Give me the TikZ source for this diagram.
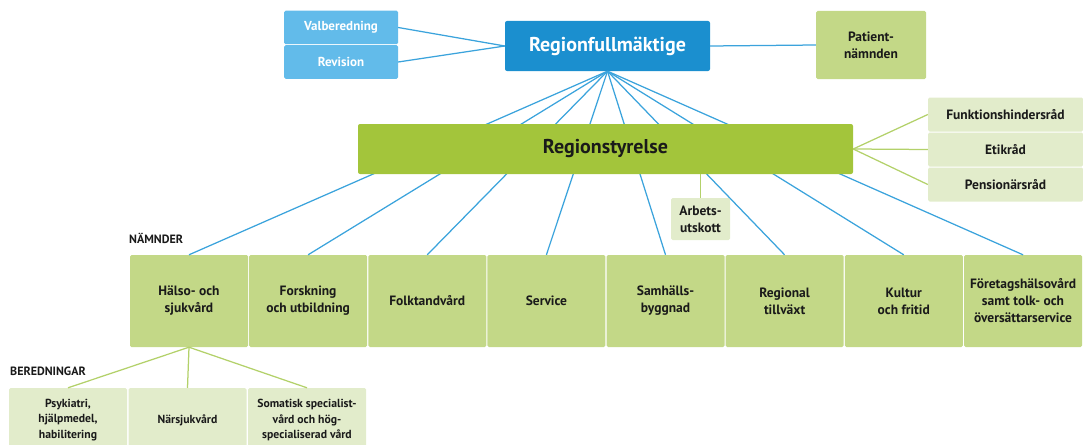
\documentclass[tikz,border=0pt]{standalone}
\usepackage{fontspec}
\setmainfont{PT Sans}
\usetikzlibrary{positioning}

\definecolor{rfblue}{RGB}{27,143,207}
\definecolor{lightblue}{RGB}{98,187,234}
\definecolor{lineblue}{RGB}{59,163,220}
\definecolor{rsgreen}{RGB}{163,197,59}
\definecolor{boxgreen}{RGB}{195,216,135}
\definecolor{palegreen}{RGB}{226,236,203}
\definecolor{linegreen}{RGB}{179,209,106}
\definecolor{txt}{RGB}{26,26,26}

\tikzset{
  nbox/.style={fill=boxgreen, text=txt, font=\bfseries\fontsize{13.5}{17}\selectfont,
    align=center, inner sep=0pt, rounded corners=1.5pt},
  pbox/.style={nbox, fill=palegreen},
  bbox/.style={fill=lightblue, text=white, font=\bfseries\fontsize{13}{15}\selectfont,
    inner sep=0pt, rounded corners=1.5pt, minimum width=114, minimum height=33.5},
  nmd/.style={nbox, minimum width=118, minimum height=92},
  ber/.style={pbox, font=\bfseries\fontsize{11.7}{15.5}\selectfont, minimum width=118, minimum height=64},
  rad/.style={pbox, minimum width=155, minimum height=34},
  bline/.style={lineblue, line width=1.25pt},
  gline/.style={linegreen, line width=1.25pt},
  rubrik/.style={text=txt, font=\bfseries\fontsize{12}{13}\selectfont, inner sep=0pt}
}

\begin{document}
\begin{tikzpicture}[x=1pt,y=-1pt]
\clip (0,0) rectangle (1083,444);

% top level
\node[fill=rfblue, text=white, font=\bfseries\fontsize{20}{22}\selectfont, inner sep=0pt,
  rounded corners=2pt, minimum width=205, minimum height=50] (rf) at (607.5,46) {Regionfullmäktige};
\node[bbox] (valb) at (341,27.5) {Valberedning};
\node[bbox] (rev) at (341,62) {Revision};
\node[nbox, minimum width=110, minimum height=68] (pat) at (871,45) {Patient-\\nämnden};
\draw[bline] (valb.east) -- (rf.west);
\draw[bline] (rev.east) -- (rf.west);
\draw[bline] (rf.east) -- (pat.west);

% nämnder
\node[rubrik, anchor=south west] (namnder) at (129,244) {NÄMNDER};
\node[nmd] (hs) at (189,301) {Hälso- och\\sjukvård};
\node[nmd] (fu) at (308.1,301) {Forskning\\och utbildning};
\node[nmd] (ft) at (427.25,301) {Folktandvård};
\node[nmd] (se) at (546.4,301) {Service};
\node[nmd] (sb) at (665.5,301) {Samhälls-\\byggnad};
\node[nmd] (rt) at (784.6,301) {Regional\\tillväxt};
\node[nmd] (kf) at (903.75,301) {Kultur\\och fritid};
\node[nmd] (fh) at (1023,301) {Företagshälsovård\\samt tolk- och\\översättarservice};

\draw[bline] (rf.south) -- (hs.north);
\draw[bline] (rf.south) -- (fu.north);
\draw[bline] (rf.south) -- (ft.north);
\draw[bline] (rf.south) -- (se.north);
\draw[bline] (rf.south) -- (sb.north);
\draw[bline] (rf.south) -- (rt.north);
\draw[bline] (rf.south) -- (kf.north);
\draw[bline] (rf.south) -- (fh.north);

% regionstyrelse
\node[fill=rsgreen, text=txt, font=\bfseries\fontsize{20}{22}\selectfont, inner sep=0pt,
  rounded corners=2pt, minimum width=495, minimum height=50] (rs) at (605.5,149) {Regionstyrelse};
\node[rad] (funk) at (1005.5,114.5) {Funktionshindersråd};
\node[rad] (etik) at (1005.5,149.5) {Etikråd};
\node[rad] (pens) at (1005.5,184.5) {Pensionärsråd};
\node[pbox, minimum width=59, minimum height=42] (arb) at (700.5,219) {Arbets-\\utskott};
\draw[gline] (rs.east) -- (funk.west);
\draw[gline] (rs.east) -- (etik.west);
\draw[gline] (rs.east) -- (pens.west);
\draw[gline] (arb.north) -- (arb.north |- rs.south);

% beredningar
\node[rubrik, anchor=south west] (beredn) at (10,376) {BEREDNINGAR};
\node[ber] (psy) at (68,420) {Psykiatri,\\hjälpmedel,\\habilitering};
\node[ber] (nsv) at (187.5,420) {Närsjukvård};
\node[ber] (som) at (307,420) {Somatisk specialist-\\vård och hög-\\specialiserad vård};
\draw[gline] (hs.south) -- (psy.north);
\draw[gline] (hs.south) -- (nsv.north);
\draw[gline] (hs.south) -- (som.north);
\end{tikzpicture}
\end{document}
